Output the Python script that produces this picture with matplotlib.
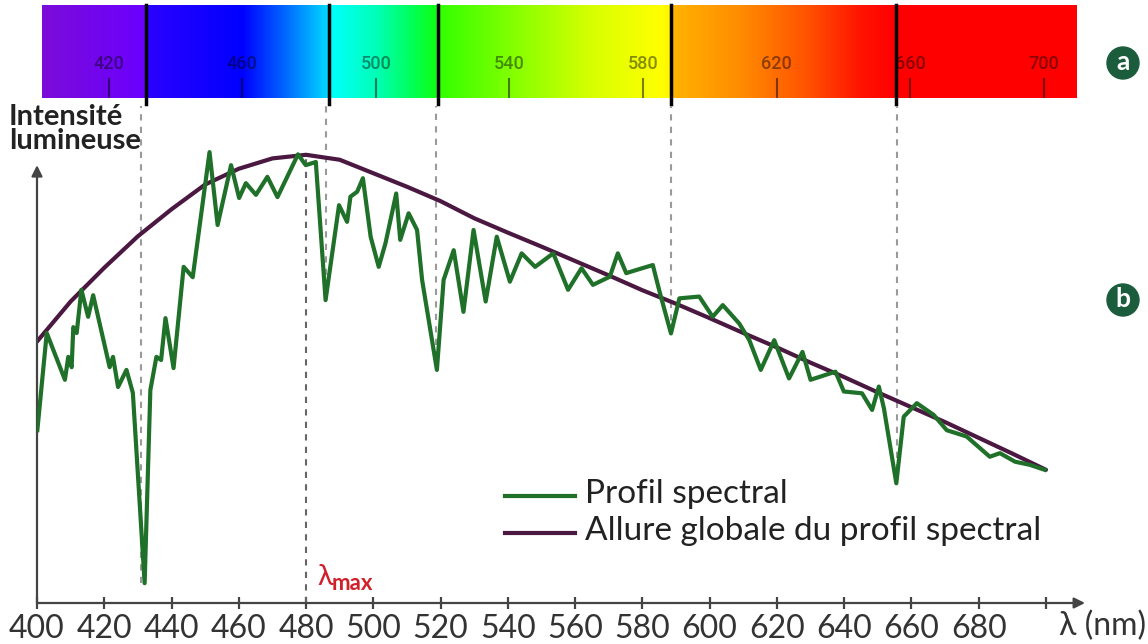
import numpy as np
import matplotlib
matplotlib.use('Agg')
import matplotlib.pyplot as plt
from matplotlib.colors import LinearSegmentedColormap, to_rgb
from matplotlib.patches import Circle

plt.rcParams['font.family'] = ['Lato', 'DejaVu Sans']

# spectral profile (green)
spec_nm = [400.1, 402.9, 408.3, 409.3, 410.3, 410.8, 411.8, 413.2, 415.2, 416.7,
           421.6, 422.6, 424.1, 426.6, 428.5, 432.0, 433.7, 435.5, 436.9, 438.2,
           440.6, 443.6, 446.3, 451.3, 453.7, 457.7, 460.1, 462.1, 465.1, 468.5,
           471.5, 477.6, 479.9, 482.9, 485.8, 489.8, 492.2, 493.2, 495.2, 496.9,
           499.2, 501.6, 503.6, 506.8, 508.0, 510.5, 513.0, 514.5, 518.9, 520.9,
           523.9, 526.8, 529.8, 533.4, 536.7, 540.6, 544.1, 548.1, 553.5, 557.9,
           561.9, 565.3, 570.3, 572.7, 575.2, 578.2, 583.1, 585.1, 588.5, 591.0,
           596.9, 600.9, 603.9, 608.8, 611.8, 615.2, 619.2, 623.6, 627.6, 630.0,
           637.4, 639.9, 645.3, 648.3, 650.3, 651.8, 655.5, 657.7, 661.6, 666.6,
           670.5, 676.4, 683.3, 686.3, 690.8, 695.2, 699.6]
spec_val = [38.4, 60.0, 49.6, 54.7, 52.4, 61.3, 60.0, 69.6, 63.6, 68.4,
            52.4, 54.7, 48.0, 51.8, 46.7, 4.4, 47.3, 54.7, 54.0, 63.3,
            52.2, 74.7, 72.4, 100.2, 84.0, 97.3, 90.0, 93.3, 90.7, 94.7,
            90.2, 99.7, 97.3, 98.0, 67.3, 88.4, 84.7, 90.3, 91.4, 94.4,
            81.4, 74.7, 79.9, 91.0, 80.7, 86.6, 82.9, 71.8, 51.8, 71.8,
            78.4, 64.7, 82.9, 67.0, 81.4, 71.4, 77.7, 74.7, 77.7, 69.6,
            74.4, 70.7, 72.5, 77.7, 73.3, 74.0, 75.1, 69.2, 59.9, 67.7,
            68.1, 63.6, 66.2, 62.1, 58.4, 51.8, 58.4, 49.9, 55.8, 49.6,
            51.4, 47.0, 46.6, 42.9, 48.1, 43.3, 26.6, 41.4, 44.4, 41.8,
            38.4, 37.0, 32.5, 33.3, 31.4, 30.7, 29.6]

# overall shape (purple)
env_nm = [400, 410, 420, 430, 440, 450, 460, 470, 480, 490, 500, 510, 520, 530,
          540, 550, 560, 570, 580, 590, 600, 610, 620, 630, 640, 650, 660, 670,
          680, 690, 700]
env_val = [58.1, 67.0, 74.5, 81.5, 87.5, 93.0, 96.5, 98.8, 99.6, 98.5, 95.5,
           92.5, 89.3, 85.5, 82.3, 79.2, 76.0, 72.8, 69.5, 66.5, 63.3, 60.0,
           56.8, 53.4, 50.2, 46.8, 43.5, 40.2, 36.7, 33.2, 29.6]

# absorption lines (nm) and depth of the dip they point to
line_nm = [431, 486, 518.5, 588.5, 655.8]
line_dip = [4.4, 67.3, 51.8, 59.9, 26.6]
lam_max = 480
lam_max_val = 99.6

xticks = list(range(400, 701, 20))
bar_ticks = list(range(420, 701, 40))

# colour stops of the top spectrum bar
bar_stops = [(400, '#7c0cd8'), (430.9, '#6a00ff'), (431, '#2c00ff'), (460, '#0000ff'),
             (472, '#0060ff'), (485.9, '#00dcff'), (486, '#00ffff'), (500, '#00ffb8'),
             (510, '#00ff60'), (518.4, '#10ff10'), (518.5, '#30ff00'), (540, '#80ff00'),
             (565, '#d8ff00'), (585, '#ffff00'), (588.4, '#fff400'), (588.5, '#ffb400'),
             (610, '#ff8a00'), (630, '#ff5000'), (645, '#ff1400'), (655, '#ff0000'),
             (710, '#ff0000')]

fig = plt.figure(figsize=(11.48, 6.44), dpi=100)

# ---- spectrum bar ----
bx = fig.add_axes([42 / 1148, 546 / 644, 1035 / 1148, 93 / 644])
lo, hi = 400, 710
cmap = LinearSegmentedColormap.from_list(
    'spec', [((w - lo) / (hi - lo), to_rgb(c)) for w, c in bar_stops], N=2048)
grad = np.linspace(0, 1, 2048).reshape(1, -1)
bx.imshow(grad, aspect='auto', cmap=cmap, extent=[lo, hi, 0, 1])
bx.set_xlim(lo, hi)
bx.set_ylim(0, 1)
bx.axis('off')
for w in bar_ticks:
    bx.text(w, 0.27, str(w), ha='center', va='bottom', fontsize=13,
            family='Roboto', fontweight='medium', color='black', alpha=0.45)
    bx.plot([w, w], [0.0, 0.2], color='black', alpha=0.5, lw=1.5)
for w in line_nm:
    bx.plot([w, w], [-0.06, 1], color='black', lw=2.5, clip_on=False)

# ---- main plot ----
ax = fig.add_axes([37 / 1148, 41 / 644, 1048 / 1148, 472.5 / 644])
ax.set_xlim(400, 711.6)
ax.set_ylim(0, 105)
for s in ax.spines.values():
    s.set_visible(False)

for w, d in zip(line_nm, line_dip):
    ax.plot([w, w], [d, 110.5], color='#9a9a9a', lw=1.5, ls=(0, (3, 3)), clip_on=False)
ax.plot([lam_max, lam_max], [0, lam_max_val], color='#666666', lw=1.5, ls=(0, (3, 3)))

ax.plot(env_nm, env_val, color='#4a1840', lw=3, solid_capstyle='round', zorder=3)
ax.plot(spec_nm, spec_val, color='#1f7028', lw=3, solid_joinstyle='round', zorder=4)

ax.annotate('', xy=(711.6, 0), xytext=(400, 0), annotation_clip=False,
            arrowprops=dict(arrowstyle='-|>', color='#444444', lw=1.6,
                            mutation_scale=16, shrinkA=0, shrinkB=0))
ax.annotate('', xy=(400, 97.3), xytext=(400, 0), annotation_clip=False,
            arrowprops=dict(arrowstyle='-|>', color='#444444', lw=1.6,
                            mutation_scale=16, shrinkA=0, shrinkB=0))

ax.set_xticks(xticks)
ax.set_xticklabels([str(t) if t < 700 else '' for t in xticks])
ax.tick_params(axis='x', direction='inout', length=8, width=1.6, color='#444444',
               labelsize=23, labelcolor='#333333', pad=4)
ax.set_yticks([])

# ---- annotations in pixel coordinates ----
ov = fig.add_axes([0, 0, 1, 1])
ov.set_xlim(0, 1148)
ov.set_ylim(644, 0)
ov.axis('off')

ov.text(9, 129, 'Intensité\nlumineuse', fontsize=21, fontweight='bold',
        color='#222222', ha='left', va='center', linespacing=0.88)
ov.text(1146, 626, 'λ (nm)', fontsize=23, color='#333333', ha='right', va='center')
ov.text(317, 577, 'λ', fontsize=21, color='#d0202a', ha='left', va='center')
ov.text(332, 583, 'max', fontsize=16, fontweight='bold', color='#d0202a',
        ha='left', va='center')

ov.plot([505, 575], [496, 496], color='#1f7028', lw=3)
ov.plot([505, 575], [533, 533], color='#4a1840', lw=3)
ov.text(585, 494, 'Profil spectral', fontsize=24, color='#222222', va='center')
ov.text(585, 531, 'Allure globale du profil spectral', fontsize=24,
        color='#222222', va='center')

for cy, letter in [(63, 'a'), (300, 'b')]:
    ov.add_patch(Circle((1123, cy), 16, color='#1b5c3c'))
    ov.text(1123, cy - 1, letter, fontsize=19, fontweight='bold', color='white',
            ha='center', va='center')

fig.savefig('out.png', dpi=100)
